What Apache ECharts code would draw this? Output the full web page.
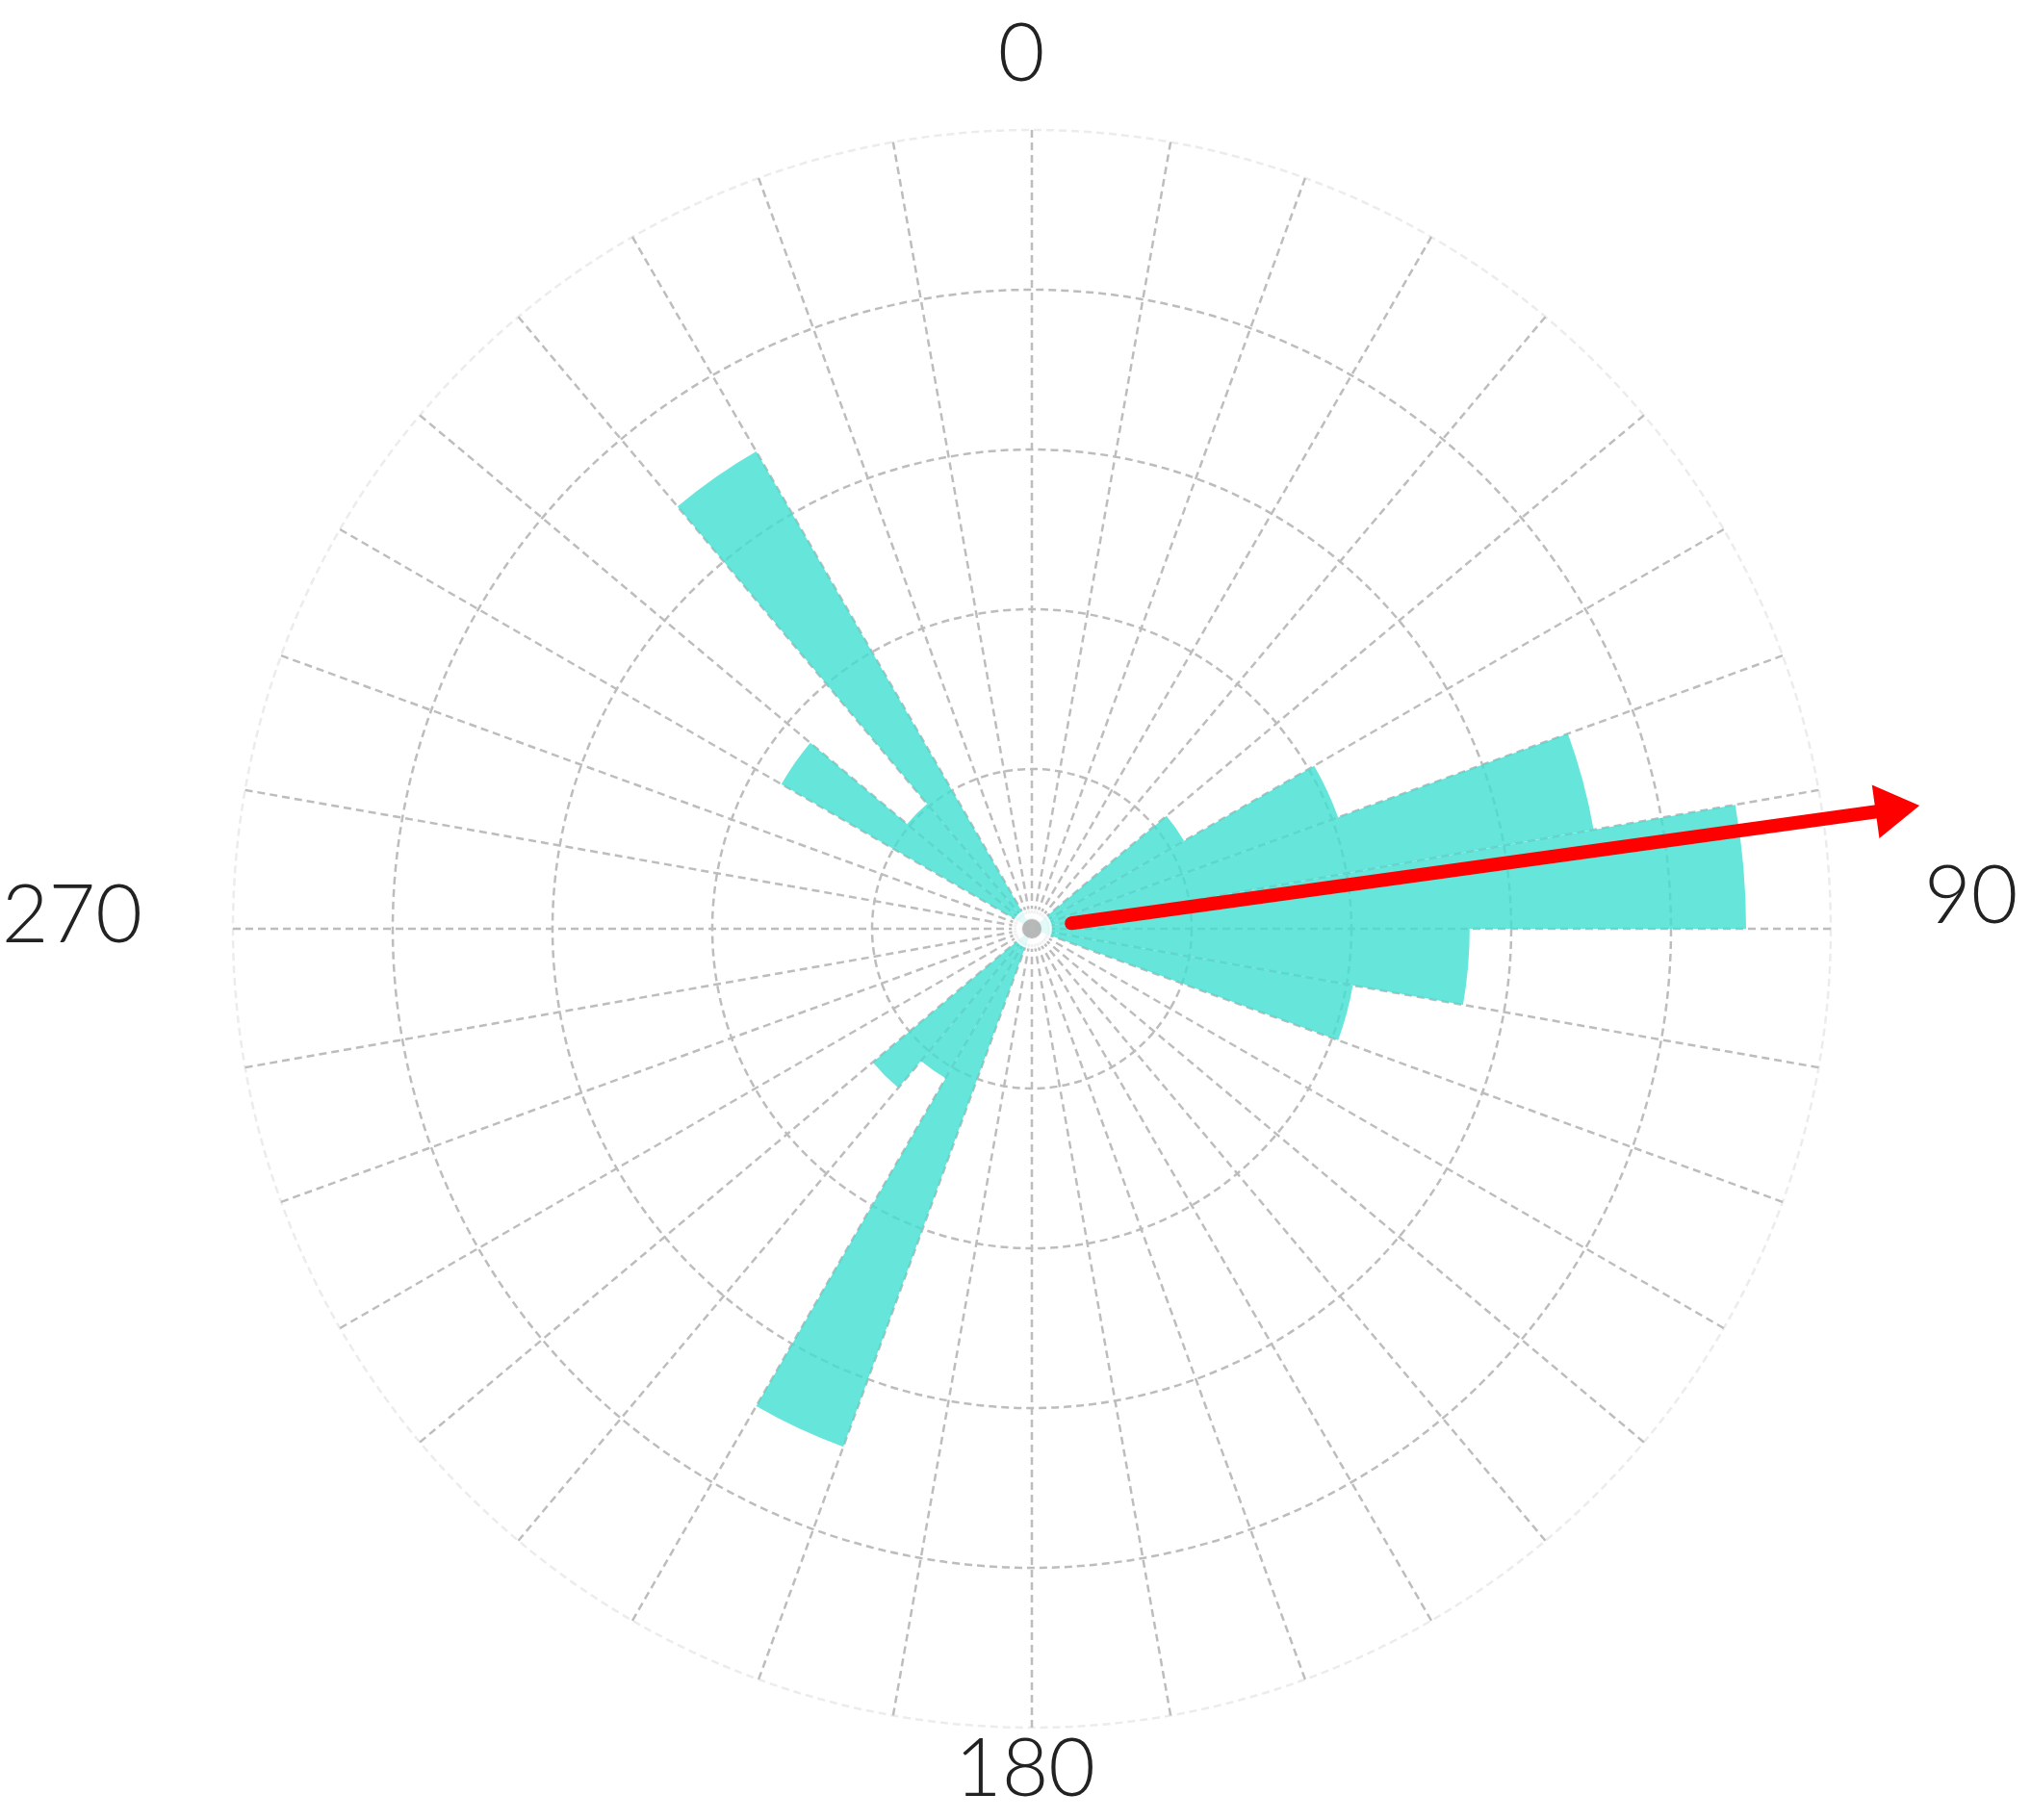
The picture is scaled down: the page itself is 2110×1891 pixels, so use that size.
<!DOCTYPE html>
<html>
<head>
<meta charset="utf-8">
<script src="https://cdn.jsdelivr.net/npm/echarts@6/dist/echarts.min.js"></script>
<style>
    html, body { margin: 0; padding: 0; background: #fff; }
    #chart { width: 2110px; height: 1891px; }
</style>
</head>
<body>
<div id="chart"></div>
<script>
    // start angle of each 10 degree bin
    const binStarts = [0, 10, 20, 30, 40, 50, 60, 70, 80, 90, 100, 110,
        120, 130, 140, 150, 160, 170, 180, 190, 200, 210, 220, 230,
        240, 250, 260, 270, 280, 290, 300, 310, 320, 330, 340, 350];
    // bar length per bin (in ring units)
    const binValues = [0, 0, 0, 0, 0, 1.10, 2.04, 3.57, 4.47, 2.74, 2.04, 0,
        0, 0, 0, 0, 0, 0, 0, 0, 3.45, 1.08, 1.30, 0,
        0, 0, 0, 0, 0, 0, 1.81, 1.02, 3.45, 0, 0, 0];
    const labelAngles = [0, 90, 180, 270];
    const labelTexts = ['0', '90', '180', '270'];
    // mean direction arrow
    const arrowAngle = 82.1;
    const arrowFrom = 0.25;
    const arrowTo = 5.47;

    const chart = echarts.init(document.getElementById('chart'));

    const gridColor = '#bdbdbd';
    const dash = [8, 5];
    const center = [1072, 965];

    let option = {
        backgroundColor: '#fff',
        animation: false,
        polar: [
            { center: center, radius: 830 },
            { center: center, radius: 830 },
            // wider frame so the arrow is not clipped
            { center: center, radius: 996 }
        ],
        angleAxis: [
            {
                polarIndex: 0,
                type: 'value',
                min: 0,
                max: 360,
                interval: 10,
                startAngle: 90,
                clockwise: true,
                axisLine: { show: false },
                axisTick: { show: false },
                splitLine: {
                    show: true,
                    lineStyle: { color: gridColor, width: 2.5, type: dash }
                },
                axisLabel: {
                    margin: 2,
                    fontSize: 84,
                    fontWeight: 300,
                    fontFamily: "Lato, 'Noto Sans', sans-serif",
                    color: '#222',
                    formatter: function (v) {
                        const i = labelAngles.indexOf(v);
                        if (i < 0) return '';
                        return '{p' + i + '|' + labelTexts[i] + '}';
                    },
                    rich: {
                        p0: { padding: [0, 22, 34, 0] },
                        p1: { padding: [0, 0, 66, 95] },
                        p2: { padding: [0, 14, 0, 0] },
                        p3: { padding: [0, 92, 26, 0] }
                    }
                }
            },
            {
                polarIndex: 1,
                type: 'category',
                data: binStarts,
                startAngle: 90,
                clockwise: true,
                show: false
            },
            {
                polarIndex: 2,
                type: 'value',
                min: 0,
                max: 360,
                startAngle: 90,
                clockwise: true,
                show: false
            }
        ],
        radiusAxis: [
            {
                polarIndex: 0,
                min: 0,
                max: 5,
                interval: 1,
                axisLine: { show: false },
                axisTick: { show: false },
                axisLabel: { show: false },
                splitLine: {
                    show: true,
                    lineStyle: {
                        color: [gridColor, gridColor, gridColor, gridColor, gridColor, '#ececec'],
                        width: 2.5,
                        type: dash
                    }
                }
            },
            {
                polarIndex: 1,
                min: 0,
                max: 5,
                show: false
            },
            {
                polarIndex: 2,
                min: 0,
                max: 6,
                show: false
            }
        ],
        series: [
            {
                type: 'bar',
                coordinateSystem: 'polar',
                polarIndex: 1,
                barCategoryGap: '0%',
                data: binValues,
                itemStyle: { color: 'rgba(64, 222, 210, 0.8)' },
                z: 2
            },
            {
                type: 'scatter',
                coordinateSystem: 'polar',
                polarIndex: 0,
                data: [[0, 0]],
                symbol: 'emptyCircle',
                symbolSize: 40,
                itemStyle: { color: '#fff', borderColor: '#d0d0d0', borderWidth: 6 },
                z: 3
            },
            {
                type: 'scatter',
                coordinateSystem: 'polar',
                polarIndex: 0,
                data: [[0, 0]],
                symbol: 'circle',
                symbolSize: 20,
                itemStyle: { color: '#a9a9a9' },
                z: 4
            },
            {
                type: 'line',
                coordinateSystem: 'polar',
                polarIndex: 2,
                clip: false,
                symbol: 'none',
                data: [
                    [arrowFrom, arrowAngle],
                    {
                        value: [arrowTo, arrowAngle],
                        symbol: 'triangle',
                        symbolSize: [56, 46],
                        symbolRotate: -arrowAngle
                    }
                ],
                showSymbol: true,
                lineStyle: { color: '#ff0000', width: 14, cap: 'round' },
                itemStyle: { color: '#ff0000' },
                z: 5
            }
        ]
    };
    chart.setOption(option);
</script>
</body>
</html>
